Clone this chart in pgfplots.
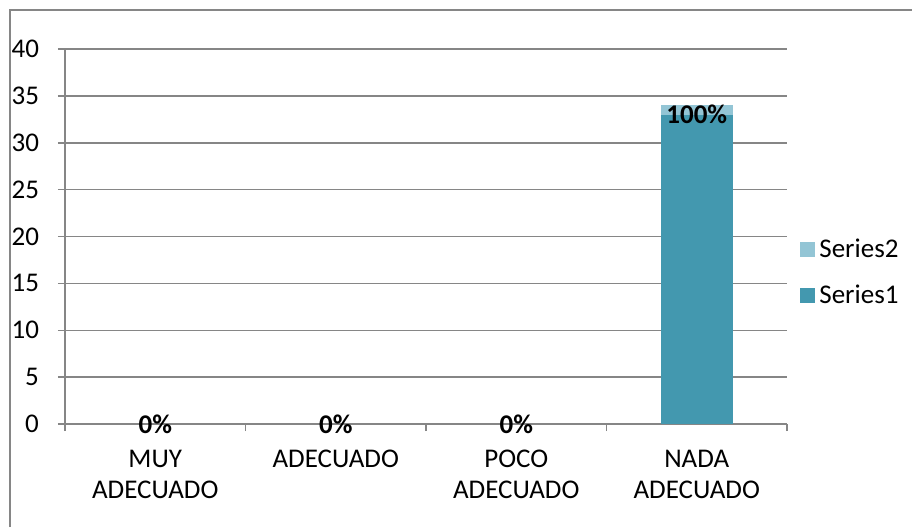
\documentclass[border=0pt]{standalone}
\usepackage{fontspec}
\setmainfont{Carlito}
\usepackage{pgfplots}
\pgfplotsset{compat=1.18}

\definecolor{serA}{RGB}{67,152,175}
\definecolor{serB}{RGB}{147,197,213}
\definecolor{gridc}{RGB}{134,134,134}

% shared geometry of the plot area
\pgfplotsset{plotarea/.style={
  at={(32.5pt,51.5pt)}, anchor=south west,
  scale only axis, width=361pt, height=187.5pt,
  xmin=-0.5, xmax=3.5, ymin=0, ymax=40, clip=false}}

\begin{document}
\begin{tikzpicture}[font=\fontsize{13.5}{15.5}\selectfont]
\useasboundingbox (0,0) rectangle (456pt,263.5pt);
% chart area frame (left and top edges)
\draw[gridc, line width=0.75pt] (5pt,0pt) -- (5pt,258.5pt) -- (456pt,258.5pt);
\begin{axis}[
  plotarea,
  ybar stacked, bar width=36pt,
  ytick={0,5,...,40},
  xtick={0,1,2,3},
  xticklabels={{MUY\\ADECUADO}, ADECUADO, {POCO\\ADECUADO}, {NADA\\ADECUADO}},
  xticklabel style={align=center, anchor=north, yshift=-6pt},
  yticklabel style={anchor=east, xshift=-6pt},
  major x tick style={draw=none},
  minor xtick={-0.5,0.5,1.5,2.5,3.5},
  tick align=outside,
  major tick length=3.5pt, minor tick length=3.5pt,
  axis x line*=bottom, axis y line*=left,
  axis line style={gridc, line width=0.75pt, -},
  ymajorgrids, grid style={gridc, line width=0.75pt},
  every tick/.style={gridc, line width=0.75pt},
  /pgf/number format/assume math mode=true,
  legend style={draw=none, fill=none, inner sep=0pt,
    at={(axis description cs:1.018,0.404)}, anchor=west,
    row sep=8pt},
  legend cell align=left,
  reverse legend,
  legend image code/.code={\fill[#1] (0pt,-3.75pt) rectangle (7.5pt,3.75pt);},
]
\addplot[fill=serA, draw=none] coordinates {(0,0) (1,0) (2,0) (3,33)};
\addlegendentry{Series1}
\addplot[fill=serB, draw=none] coordinates {(0,0) (1,0) (2,0) (3,1)};
\addlegendentry{Series2}
\end{axis}
% data labels at the top of Series1
\begin{axis}[plotarea, hide axis]
\addplot[only marks, mark=none, nodes near coords, point meta=explicit symbolic,
  every node near coord/.style={anchor=center,
    font=\fontsize{13.5}{15.5}\selectfont\bfseries, text=black}]
  coordinates {(0,0) [0\%] (1,0) [0\%] (2,0) [0\%] (3,33) [100\%]};
\end{axis}
\end{tikzpicture}
\end{document}
